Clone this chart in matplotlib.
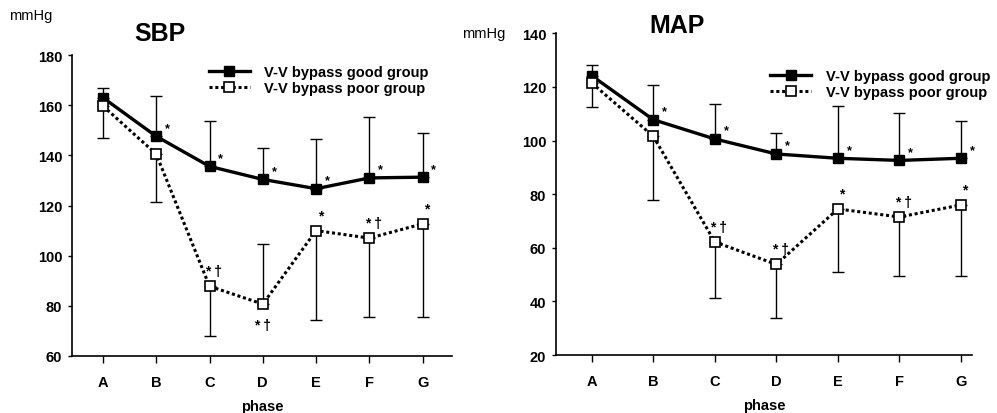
import numpy as np
import matplotlib.pyplot as plt

plt.rcParams['font.family'] = ['Liberation Sans', 'DejaVu Sans']

phases = ['A', 'B', 'C', 'D', 'E', 'F', 'G']

# SBP panel
sbp_good = [163, 147.6, 135.6, 130.4, 126.7, 131, 131.3]
sbp_good_sd = [4, 16.2, 18, 12.6, 19.8, 24.4, 17.7]
sbp_poor = [159.7, 140.5, 87.8, 80.7, 110, 107, 112.7]
sbp_poor_sd = [12.7, 19.1, 19.8, 24.1, 35.6, 31.3, 37]
sbp_good_marks = ['', '*', '*', '*', '*', '*', '*']
sbp_poor_marks = ['', '', '* \u2020', '* \u2020', '*', '* \u2020', '*']
sbp_poor_place = ['up', 'up', 'up', 'down', 'up', 'up', 'up']

# MAP panel
map_good = [124.2, 107.8, 100.6, 95, 93.4, 92.6, 93.4]
map_good_sd = [4.1, 13.1, 13.1, 7.9, 19.5, 17.8, 14]
map_poor = [121.5, 101.6, 62.2, 53.8, 74.5, 71.5, 76]
map_poor_sd = [9.1, 23.7, 21.1, 20, 23.5, 22.2, 26.7]
map_good_marks = ['', '*', '*', '*', '*', '*', '*']
map_poor_marks = ['', '', '* \u2020', '* \u2020', '*', '* \u2020', '*']
map_poor_place = ['up', 'up', 'up', 'up', 'up', 'up', 'up']


def panel(ax, good, good_sd, poor, poor_sd, good_marks, poor_marks, poor_place,
          ylim, yticks, xmax, leg_anchor):
    x = np.arange(len(phases))
    # error bars: good upward, poor downward (or upward when labelled below)
    zeros = np.zeros(len(x))
    ax.errorbar(x, good, yerr=[zeros, good_sd], fmt='none', ecolor='black',
                elinewidth=1, capsize=4, capthick=1, zorder=1)
    lo = [0 if p == 'down' else s for s, p in zip(poor_sd, poor_place)]
    hi = [s if p == 'down' else 0 for s, p in zip(poor_sd, poor_place)]
    ax.errorbar(x, poor, yerr=[lo, hi], fmt='none', ecolor='black',
                elinewidth=1, capsize=4, capthick=1, zorder=1)
    ax.plot(x, good, color='black', lw=2.4, marker='s', ms=7.5,
            mfc='black', mec='black', label='V-V bypass good group', zorder=3)
    ax.plot(x, poor, color='black', lw=2.2, ls=(0, (1, 0.9)), marker='s', ms=7.5,
            mfc='white', mec='black', mew=1.2,
            label='V-V bypass poor group', zorder=3)

    for xi, yi, m in zip(x, good, good_marks):
        if m:
            ax.annotate(m, (xi, yi), xytext=(8, 6), textcoords='offset points',
                        ha='center', va='center', fontsize=9, fontweight='bold')
    for xi, yi, m, p in zip(x, poor, poor_marks, poor_place):
        if m:
            dy = -15 if p == 'down' else 11
            dx = 0 if p == 'down' else 3
            ax.annotate(m, (xi, yi), xytext=(dx, dy), textcoords='offset points',
                        ha='center', va='center', fontsize=10, fontweight='bold')

    ax.set_xlim(-0.58, xmax)
    ax.set_ylim(*ylim)
    ax.set_yticks(yticks)
    ax.set_xticks(x)
    ax.set_xticklabels(phases)
    for s in ['top', 'right']:
        ax.spines[s].set_visible(False)
    ax.spines['left'].set_linewidth(1.2)
    ax.spines['bottom'].set_linewidth(1.2)
    ax.tick_params(axis='y', length=3, width=1, pad=4, labelsize=10.5)
    ax.tick_params(axis='x', length=5, width=1, pad=9, labelsize=10.5)
    for lab in ax.get_xticklabels() + ax.get_yticklabels():
        lab.set_fontweight('bold')
    ax.set_xlabel('phase', fontsize=10.5, fontweight='bold', labelpad=7)
    ax.legend(loc='upper left', bbox_to_anchor=leg_anchor, frameon=False,
              handlelength=2.8, handletextpad=1.0, labelspacing=0.15,
              borderaxespad=0, borderpad=0,
              prop={'size': 10.5, 'weight': 'bold'})


fig = plt.figure(figsize=(9.97, 4.14), dpi=100)
ax1 = fig.add_axes([0.0722, 0.1377, 0.3812, 0.727])
ax2 = fig.add_axes([0.5577, 0.14, 0.4173, 0.777])

panel(ax1, sbp_good, sbp_good_sd, sbp_poor, sbp_poor_sd, sbp_good_marks,
      sbp_poor_marks, sbp_poor_place, (60, 180), [60, 80, 100, 120, 140, 160, 180],
      6.55, (0.36, 0.967))
panel(ax2, map_good, map_good_sd, map_poor, map_poor_sd, map_good_marks,
      map_poor_marks, map_poor_place, (20, 140), [20, 40, 60, 80, 100, 120, 140],
      6.18, (0.515, 0.889))

fig.text(160 / 997, 1 - 34 / 414, 'SBP', fontsize=18, fontweight='bold',
         ha='center', va='center')
fig.text(677 / 997, 1 - 26 / 414, 'MAP', fontsize=18, fontweight='bold',
         ha='center', va='center')
fig.text(31 / 997, 1 - 16 / 414, 'mmHg', fontsize=10.5, ha='center', va='center')
fig.text(484 / 997, 1 - 34 / 414, 'mmHg', fontsize=10.5, ha='center', va='center')

fig.savefig('out.png', dpi=100)
